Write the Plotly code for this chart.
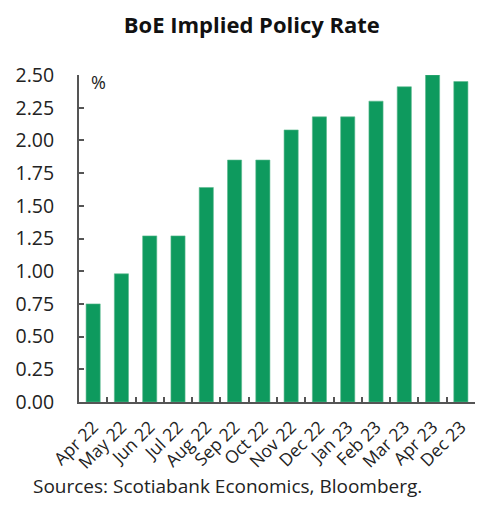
import plotly.graph_objects as go

months = ['Apr 22', 'May 22', 'Jun 22', 'Jul 22', 'Aug 22', 'Sep 22', 'Oct 22',
          'Nov 22', 'Dec 22', 'Jan 23', 'Feb 23', 'Mar 23', 'Apr 23', 'Dec 23']
rates = [0.75, 0.98, 1.27, 1.27, 1.64, 1.85, 1.85,
         2.08, 2.18, 2.18, 2.30, 2.41, 2.50, 2.45]
y_ticks = [0.0, 0.25, 0.5, 0.75, 1.0, 1.25, 1.5, 1.75, 2.0, 2.25, 2.5]

green = "#0E9A5E"
axis_grey = "#555555"
font_family = "Open Sans"

fig = go.Figure(data=[go.Bar(x=months, y=rates,
                             marker=dict(color=green,
                                         line=dict(color="#5DBB8E", width=0.6)))])

# page body has an 8px margin, so the figure is 8px smaller each way
fig.update_layout(
    width=479, height=498,
    margin=dict(l=71, r=12, t=67, b=104),
    bargap=0.5,
    showlegend=False,
    paper_bgcolor="white",
    plot_bgcolor="white",
    font=dict(family=font_family, color="#222222"),
    title=dict(text="<b>BoE Implied Policy Rate</b>", x=0.509, xanchor="center",
               y=0.966, yanchor="middle",
               font=dict(family=font_family, size=22, color="#111111")),
)

fig.update_yaxes(range=[0, 2.5], tickvals=y_ticks, tickformat=".2f",
                 automargin=False,
                 showgrid=False, zeroline=False,
                 showline=True, linecolor=axis_grey, linewidth=2,
                 ticks="inside", ticklen=5, tickcolor=axis_grey, tickwidth=2,
                 ticklabelstandoff=19,
                 tickfont=dict(size=19.5, color="#222222"))

fig.update_xaxes(automargin=False,
                 showgrid=False, showline=True, linecolor=axis_grey, linewidth=2,
                 ticks="inside", ticklen=5, tickcolor=axis_grey, tickwidth=2,
                 tickson="boundaries", tickangle=-45,
                 ticklabelstandoff=6,
                 tickfont=dict(size=17.5, color="#222222"))

fig.add_annotation(text="%", xref="paper", yref="paper", x=0.025, y=1.02,
                   xanchor="left", yanchor="top", showarrow=False,
                   font=dict(family=font_family, size=18, color="#222222"))

fig.add_annotation(text="Sources: Scotiabank Economics, Bloomberg.",
                   xref="paper", yref="paper", x=-0.122, y=-0.258,
                   xanchor="left", yanchor="middle", showarrow=False,
                   font=dict(family=font_family, size=19, color="#222222"))

fig.write_html("out.html")
